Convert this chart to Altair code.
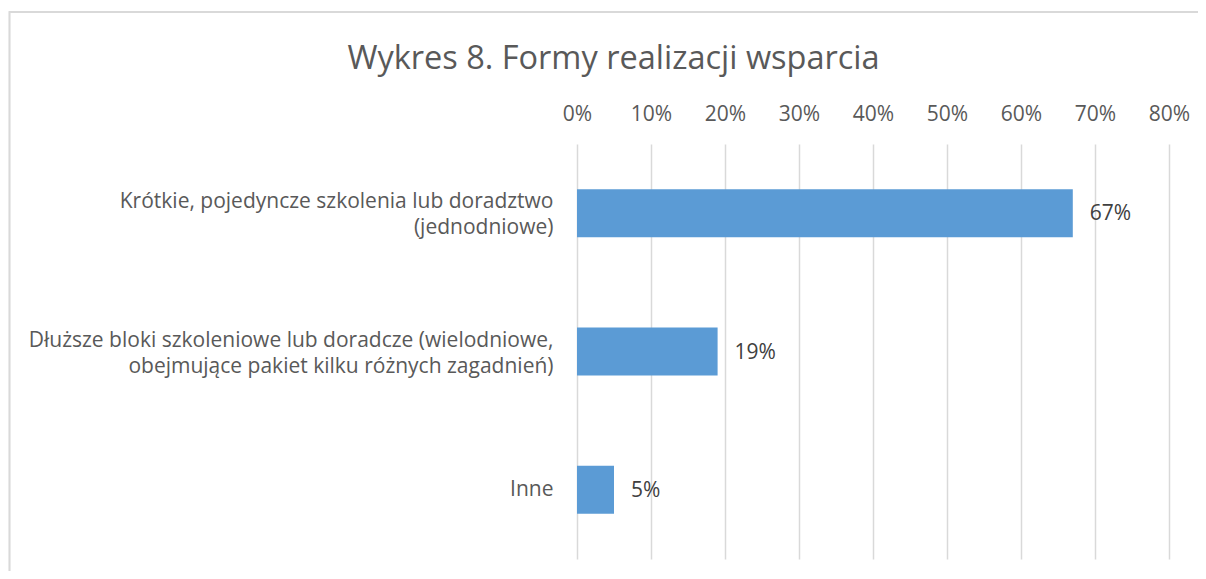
import altair as alt
import pandas as pd

categories = [
    "Krótkie, pojedyncze szkolenia lub doradztwo\n(jednodniowe)",
    "Dłuższe bloki szkoleniowe lub doradcze (wielodniowe,\nobejmujące pakiet kilku różnych zagadnień)",
    "Inne",
]
values = [0.67, 0.19, 0.05]
ticks = [0, 0.1, 0.2, 0.3, 0.4, 0.5, 0.6, 0.7, 0.8]

df = pd.DataFrame({"cat": categories, "val": values})

FONT = "Open Sans"
W, H = 592, 415
PL, PT, PR, PB = 569, 136, 29, 12

y_enc = alt.Y(
    "cat:N",
    sort=categories,
    scale=alt.Scale(paddingInner=0.653, paddingOuter=0.3265),
    axis=alt.Axis(
        title=None,
        labelExpr="split(datum.label, '\\n')",
        labelOffset=alt.ExprRef(expr="indexof(datum.value, '\\n') >= 0 ? -11 : 0"),
        labelLimit=600,
        labelFontSize=21,
        labelColor="#595959",
        labelFont=FONT,
        labelPadding=24,
        labelLineHeight=26,
        ticks=False,
        domain=False,
    ),
)

x_enc = alt.X(
    "val:Q",
    scale=alt.Scale(domain=[0, 0.8], nice=False),
    axis=alt.Axis(
        orient="top",
        values=ticks,
        format=".0%",
        title=None,
        labelFontSize=21,
        labelColor="#595959",
        labelFont=FONT,
        labelPadding=20,
        labelFlush=False,
        ticks=False,
        domain=False,
        grid=True,
        gridColor="#D9D9D9",
        gridWidth=1.5,
    ),
)

border = alt.Chart(df).mark_rect(
    fill=None, stroke="#D9D9D9", strokeWidth=1.5
).encode(
    x=alt.value(-567.5), x2=alt.value(700), y=alt.value(-132), y2=alt.value(600)
)

bars = alt.Chart(df).mark_bar(color="#5B9BD5").encode(x=x_enc, y=y_enc)

labels = alt.Chart(df).mark_text(
    align="left", baseline="middle", dx=17, dy=1, fontSize=21, font=FONT, color="#404040"
).encode(x="val:Q", y=alt.Y("cat:N", sort=categories), text=alt.Text("val:Q", format=".0%"))

chart = alt.layer(border, bars, labels).properties(
    width=W,
    height=H,
    padding={"left": PL, "top": PT, "right": PR, "bottom": PB},
    autosize=alt.AutoSizeParams(type="none"),
    title=alt.TitleParams(
        "Wykres 8. Formy realizacji wsparcia",
        anchor="middle",
        dx=-259.5,
        dy=68.5,
        fontSize=32.5,
        font=FONT,
        fontWeight="normal",
        color="#595959",
    ),
).configure(background="white").configure_view(stroke=None)

chart.save("out.html", embed_options={"renderer": "svg", "actions": False})
